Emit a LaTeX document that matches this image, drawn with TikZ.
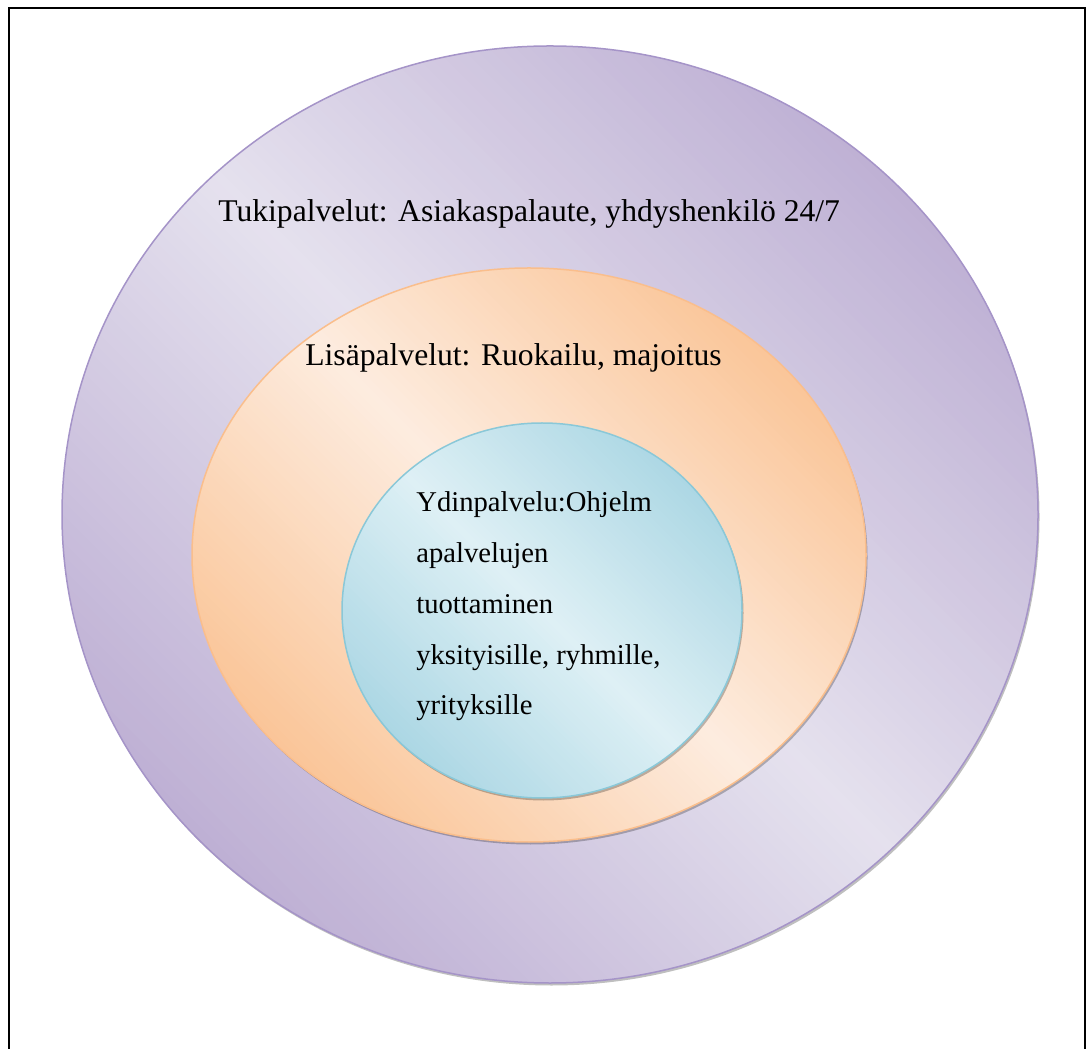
\documentclass[tikz,border=0pt]{standalone}
\usepackage{fontspec}
\setmainfont{Liberation Serif}
\definecolor{tukilight}{RGB}{229,225,238}
\definecolor{tukidark}{RGB}{190,176,212}
\definecolor{tukiedge}{RGB}{165,148,200}
\definecolor{lisalight}{RGB}{253,236,223}
\definecolor{lisadark}{RGB}{250,197,152}
\definecolor{lisaedge}{RGB}{250,190,140}
\definecolor{ydinlight}{RGB}{222,240,245}
\definecolor{ydindark}{RGB}{172,215,228}
\definecolor{ydinedge}{RGB}{138,200,216}
\tikzset{
  shadowfill/.style={fill=black, opacity=0.25},
  ringlabel/.style={anchor=base west, inner sep=0pt, font=\fontsize{18}{22}\selectfont}
}
\begin{document}
\begin{tikzpicture}[x=0.02cm, y=0.02cm]
  \useasboundingbox (0,0) rectangle (1091,1048);
  % frame, open at the bottom
  \draw[line width=0.04cm] (9,-12) -- (9,1040) -- (1085,1040) -- (1085,-12);
  % rings: reflected diagonal gradient, dark to the top right and bottom left
  \foreach \cx/\cy/\rx/\ry/\ring in {550/533.5/488/468.5/tuki, 529/493/337/287/lisa, 542/437.5/200/187.5/ydin} {
    \fill[shadowfill] (\cx+1.5,\cy-2.5) ellipse [x radius=\rx, y radius=\ry];
    \begin{scope}
      \clip (\cx,\cy) ellipse [x radius=\rx, y radius=\ry];
      \pgfmathsetmacro\h{100*sqrt(((\rx/100)^2+(\ry/100)^2)/2)}
      \foreach \k in {0,...,99} {
        \pgfmathsetmacro\s{-\h+2*\h/100*\k}
        \pgfmathtruncatemacro\p{100*abs((\k+0.5)/50-1)}
        \fill[\ring dark!\p!\ring light, shift={(\cx,\cy)}, rotate=45]
          (\s,-\h) rectangle ++(2*\h/100+1.5, 2*\h);
      }
    \end{scope}
    \draw[\ring edge, line width=0.03cm] (\cx,\cy) ellipse [x radius=\rx, y radius=\ry];
  }
  % labels
  \node[ringlabel] (tuki) at (218,826) {Tukipalvelut: Asiakaspalaute, yhdyshenkilö 24/7};
  \node[ringlabel] (lisa) at (305,682) {Lisäpalvelut: Ruokailu, majoitus};
  \node[anchor=base west, inner sep=0pt, align=left, font=\fontsize{16.3}{29}\selectfont] (ydin) at (416,333)
    {Ydinpalvelu:Ohjelm\\apalvelujen\\tuottaminen\\yksityisille, ryhmille,\\yrityksille};
\end{tikzpicture}
\end{document}
